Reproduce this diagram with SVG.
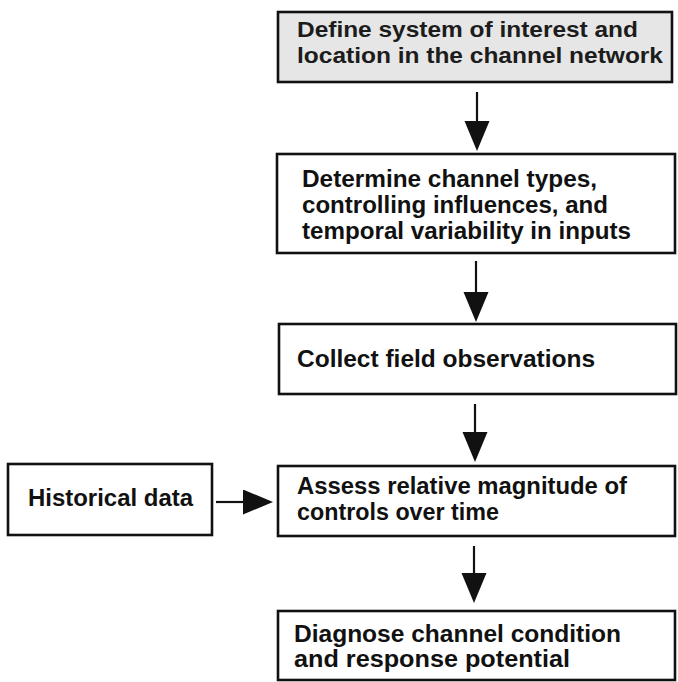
<svg xmlns="http://www.w3.org/2000/svg" width="678" height="682" viewBox="0 0 678 682">
  <style>
    .box { fill: #ffffff; stroke: #111111; stroke-width: 2.6; }
    .box.shaded { fill: #e6e6e6; }
    .t { font-family: "Liberation Sans", Arial, Helvetica, sans-serif; font-weight: bold; font-size: 23.5px; fill: #111111; }
    .t1 { font-size: 22px; fill: #1c1c1c; }
    .conn { stroke: #111111; stroke-width: 2.2; fill: none; marker-end: url(#head); }
  </style>
  <defs>
    <marker id="head" markerUnits="userSpaceOnUse" markerWidth="30" markerHeight="26" refX="0" refY="12.5" orient="auto" viewBox="0 0 30 26">
      <path d="M0,0 L30,12.5 L0,25 Z" fill="#111111"/>
    </marker>
  </defs>
  <rect width="678" height="682" fill="#ffffff"/>

  <g id="connectors">
    <path class="conn" d="M477,92 L477,121"/>
    <path class="conn" d="M476,261 L476,292"/>
    <path class="conn" d="M475,404 L475,432"/>
    <path class="conn" d="M474,546 L474,573"/>
    <path class="conn" d="M216,502 L243,502"/>
  </g>

  <g id="node-define">
    <rect class="box shaded" x="278" y="12" width="394" height="70"/>
    <text class="t t1" x="297" y="37" textLength="341" lengthAdjust="spacingAndGlyphs">Define system of interest and</text>
    <text class="t t1" x="297" y="63" textLength="366" lengthAdjust="spacingAndGlyphs">location in the channel network</text>
  </g>

  <g id="node-determine">
    <rect class="box" x="277" y="154" width="398" height="99"/>
    <text class="t" x="302" y="187" textLength="295" lengthAdjust="spacingAndGlyphs">Determine channel types,</text>
    <text class="t" x="302" y="213" textLength="306" lengthAdjust="spacingAndGlyphs">controlling influences, and</text>
    <text class="t" x="302" y="239" textLength="329" lengthAdjust="spacingAndGlyphs">temporal variability in inputs</text>
  </g>

  <g id="node-collect">
    <rect class="box" x="279" y="324" width="397" height="70"/>
    <text class="t" x="297" y="367" textLength="298" lengthAdjust="spacingAndGlyphs">Collect field observations</text>
  </g>

  <g id="node-historical">
    <rect class="box" x="8" y="464" width="204" height="71"/>
    <text class="t" x="28" y="506" textLength="165" lengthAdjust="spacingAndGlyphs">Historical data</text>
  </g>

  <g id="node-assess">
    <rect class="box" x="278" y="466" width="397" height="70"/>
    <text class="t" x="297" y="494" textLength="330" lengthAdjust="spacingAndGlyphs">Assess relative magnitude of</text>
    <text class="t" x="297" y="520" textLength="202" lengthAdjust="spacingAndGlyphs">controls over time</text>
  </g>

  <g id="node-diagnose">
    <rect class="box" x="278" y="611" width="397" height="69"/>
    <text class="t" x="294" y="642" textLength="327" lengthAdjust="spacingAndGlyphs">Diagnose channel condition</text>
    <text class="t" x="294" y="667" textLength="276" lengthAdjust="spacingAndGlyphs">and response potential</text>
  </g>
</svg>
